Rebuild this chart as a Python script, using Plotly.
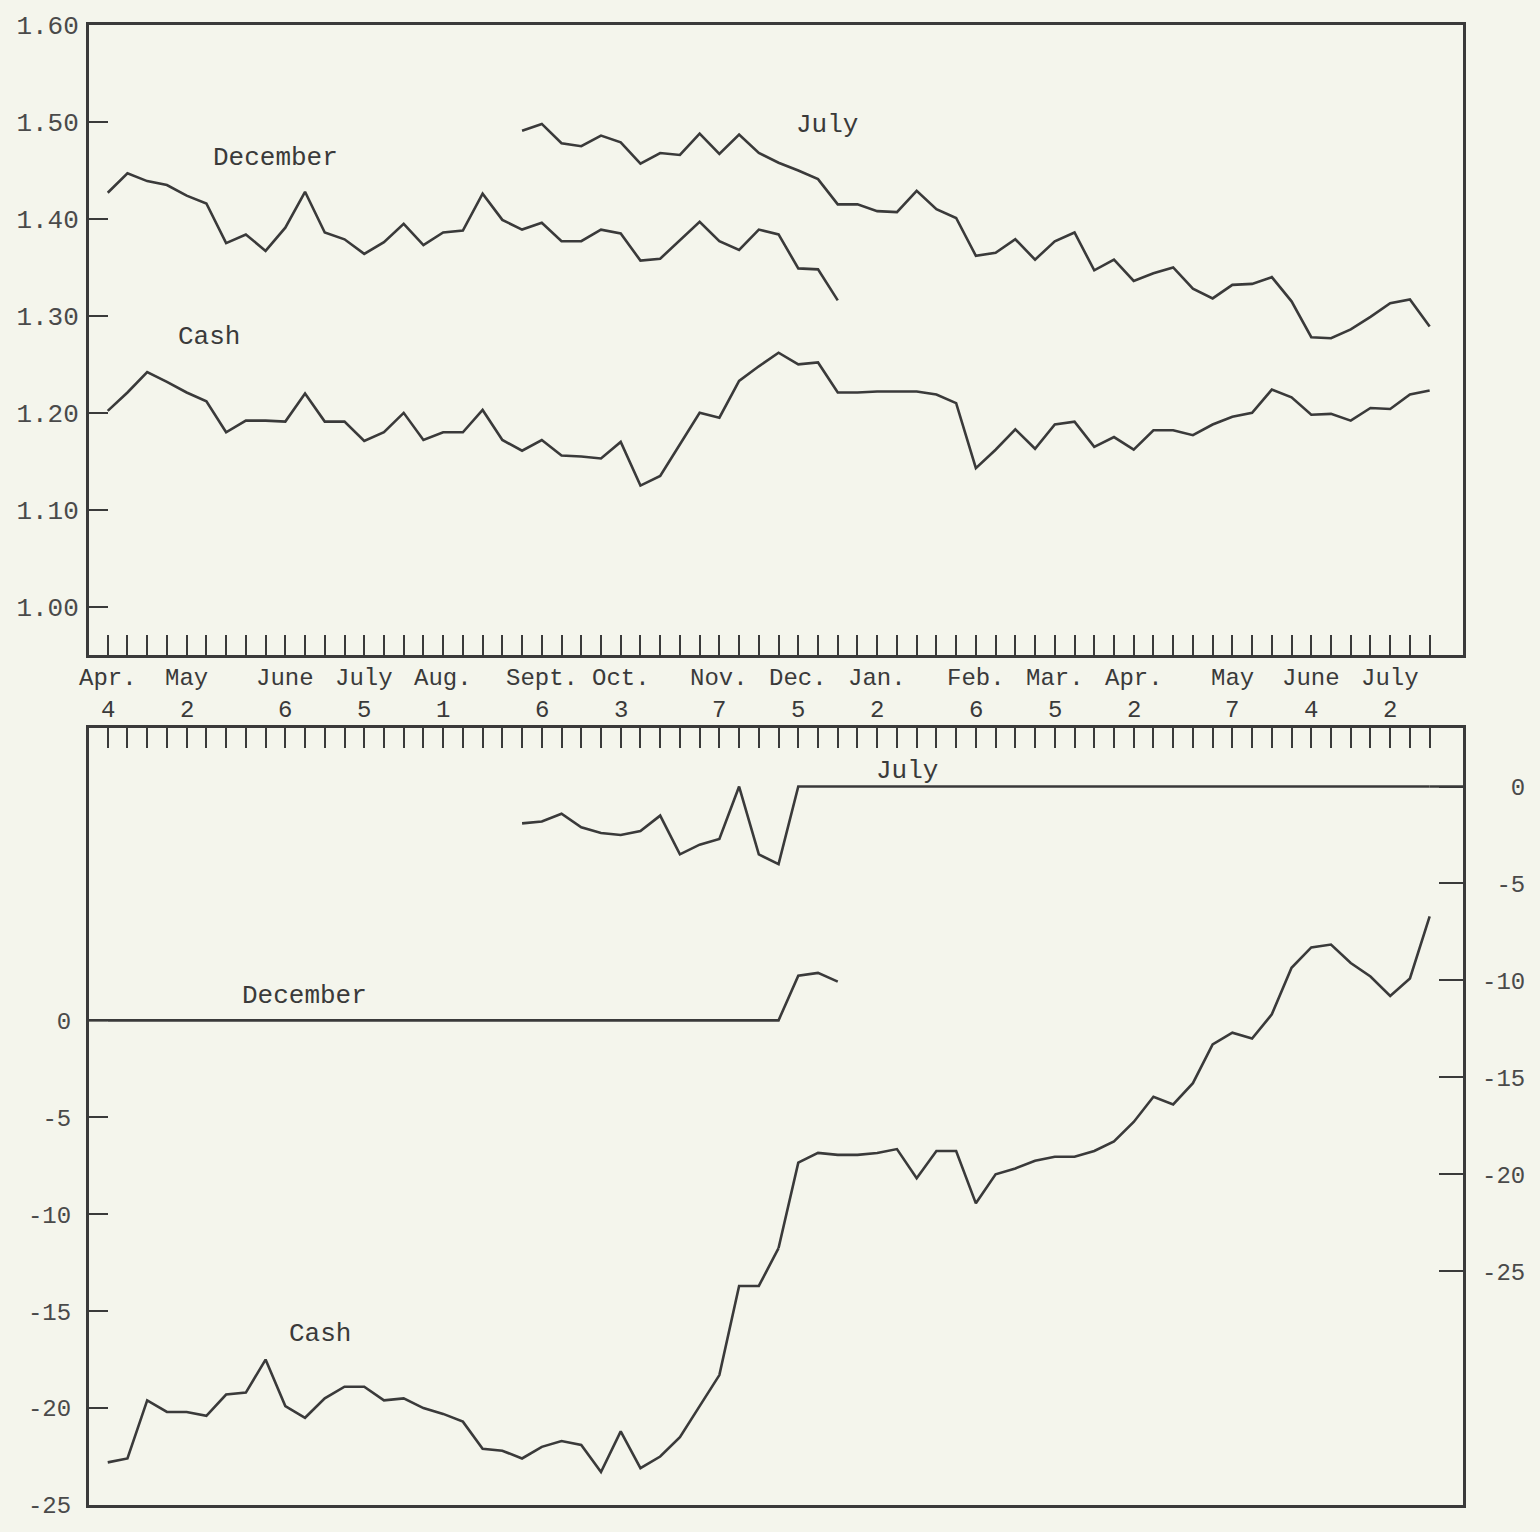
import plotly.graph_objects as go

# ---- time axis: weekly observations, week 0 = Apr. 4 ----
WEEKS = list(range(68))
LABEL_WEEKS = [0, 4, 9, 13, 17, 22, 26, 31, 35, 39, 44, 48, 52, 57, 61, 65]
MONTH_LABELS = ["Apr.", "May", "June", "July", "Aug.", "Sept.", "Oct.", "Nov.",
                "Dec.", "Jan.", "Feb.", "Mar.", "Apr.", "May", "June", "July"]
DAY_LABELS = ["4", "2", "6", "5", "1", "6", "3", "7", "5", "2", "6", "5", "2", "7", "4", "2"]

# ---- upper panel: prices ($ per bushel) ----
DEC_WEEKS = list(range(0, 38))
DEC_PRICE = [1.427, 1.447, 1.439, 1.435, 1.424, 1.416, 1.375, 1.384, 1.367, 1.391,
             1.428, 1.386, 1.379, 1.364, 1.376, 1.395, 1.373, 1.386, 1.388, 1.426,
             1.399, 1.389, 1.396, 1.377, 1.377, 1.389, 1.385, 1.357, 1.359, 1.378,
             1.397, 1.377, 1.368, 1.389, 1.384, 1.349, 1.348, 1.316]

JULY_WEEKS = list(range(21, 68))
JULY_PRICE = [1.491, 1.498, 1.478, 1.475, 1.486, 1.479, 1.457, 1.468, 1.466, 1.488,
              1.467, 1.487, 1.468, 1.458, 1.450, 1.441, 1.415, 1.415, 1.408, 1.407,
              1.429, 1.410, 1.401, 1.362, 1.365, 1.379, 1.358, 1.377, 1.386, 1.347,
              1.358, 1.336, 1.344, 1.350, 1.328, 1.318, 1.332, 1.333, 1.340, 1.315,
              1.278, 1.277, 1.286, 1.299, 1.313, 1.317, 1.289]

CASH_PRICE = [1.202, 1.221, 1.242, 1.232, 1.221, 1.212, 1.180, 1.192, 1.192, 1.191,
              1.220, 1.191, 1.191, 1.171, 1.180, 1.200, 1.172, 1.180, 1.180, 1.203,
              1.172, 1.161, 1.172, 1.156, 1.155, 1.153, 1.170, 1.125, 1.135, 1.167,
              1.200, 1.195, 1.233, 1.248, 1.262, 1.250, 1.252, 1.221, 1.221, 1.222,
              1.222, 1.222, 1.219, 1.210, 1.143, 1.162, 1.183, 1.163, 1.188, 1.191,
              1.165, 1.175, 1.162, 1.182, 1.182, 1.177, 1.188, 1.196, 1.200, 1.224,
              1.216, 1.198, 1.199, 1.192, 1.205, 1.204, 1.219, 1.223]

# ---- lower panel: differences (cents), left scale vs. December, right scale vs. July ----
DEC_DIFF = [0] * 35 + [2.3, 2.45, 2.0]                      # weeks 0-37, left scale
JULY_DIFF = [-1.9, -1.8, -1.4, -2.1, -2.4, -2.5, -2.3, -1.5, -3.5, -3.0,
             -2.7, 0.0, -3.5, -4.0] + [0] * 33               # weeks 21-67, right scale
CASH_DEC_WEEKS = list(range(0, 35))
CASH_DEC_DIFF = [-22.8, -22.6, -19.6, -20.2, -20.2, -20.4, -19.3, -19.2, -17.5, -19.9,
                 -20.5, -19.5, -18.9, -18.9, -19.6, -19.5, -20.0, -20.3, -20.7, -22.1,
                 -22.2, -22.6, -22.0, -21.7, -21.9, -23.3, -21.2, -23.1, -22.5, -21.5,
                 -19.9, -18.3, -13.7, -13.7, -11.75]
CASH_JULY_WEEKS = list(range(34, 68))
CASH_JULY_DIFF = [-23.8, -19.4, -18.9, -19.0, -19.0, -18.9, -18.7, -20.2, -18.8, -18.8,
                  -21.5, -20.0, -19.7, -19.3, -19.1, -19.1, -18.8, -18.3, -17.3, -16.0,
                  -16.4, -15.3, -13.3, -12.7, -13.0, -11.75, -9.35, -8.3, -8.15, -9.1,
                  -9.8, -10.8, -9.9, -6.7]

PRICE_TICKS = [1.00, 1.10, 1.20, 1.30, 1.40, 1.50, 1.60]
DIFF_TICKS = [0, -5, -10, -15, -20, -25]

# ---- styling ----
INK = "#3a3a3a"
PAPER = "#f4f5ec"
TYPE = "Liberation Mono, Courier New, monospace"
X_RANGE = [-0.95, 68.69]
LW = 2.6

fig = go.Figure()

def line(x, y, xa, ya):
    fig.add_trace(go.Scatter(x=x, y=y, xaxis=xa, yaxis=ya, mode="lines",
                             line=dict(color=INK, width=LW), hoverinfo="skip",
                             showlegend=False))

line(DEC_WEEKS, DEC_PRICE, "x", "y")
line(JULY_WEEKS, JULY_PRICE, "x", "y")
line(WEEKS, CASH_PRICE, "x", "y")

line(DEC_WEEKS, DEC_DIFF, "x2", "y2")
line(CASH_DEC_WEEKS, CASH_DEC_DIFF, "x2", "y2")
line(JULY_WEEKS, JULY_DIFF, "x2", "y3")
line(CASH_JULY_WEEKS, CASH_JULY_DIFF, "x2", "y3")

# zero lines of the two lower scales, carried to the frame
fig.add_shape(type="line", xref="x2", yref="y2", x0=X_RANGE[0], x1=DEC_WEEKS[0],
              y0=0, y1=0, line=dict(color=INK, width=LW))
fig.add_shape(type="line", xref="x2", yref="y3", x0=JULY_WEEKS[-1], x1=X_RANGE[1],
              y0=0, y1=0, line=dict(color=INK, width=LW))

frame = dict(showline=True, linecolor=INK, linewidth=3, mirror=True,
             showgrid=False, zeroline=False)

fig.update_layout(
    width=1540, height=1532,
    margin=dict(l=89, r=77, t=20, b=24),
    paper_bgcolor=PAPER, plot_bgcolor=PAPER,
    xaxis=dict(domain=[0, 1], range=X_RANGE, anchor="y", tickvals=WEEKS,
               ticks="inside", ticklen=20, tickwidth=2.4, tickcolor=INK,
               showticklabels=False, **frame),
    yaxis=dict(domain=[0.5746, 1.0], range=[0.9507, 1.60], anchor="x",
               tickvals=PRICE_TICKS, ticktext=[f"{v:.2f}" for v in PRICE_TICKS],
               ticks="inside", ticklen=19, tickwidth=2.4, tickcolor=INK,
               ticklabelstandoff=2,
               tickfont=dict(family=TYPE, size=26, color="#4a4a4a"), **frame),
    xaxis2=dict(domain=[0, 1], range=X_RANGE, anchor="y2", side="top",
                tickvals=WEEKS, ticks="inside", ticklen=20, tickwidth=2.4,
                tickcolor=INK, showticklabels=False, **frame),
    yaxis2=dict(domain=[0, 0.52487], range=[-25, 15.07], anchor="x2",
                tickvals=DIFF_TICKS, ticktext=[str(v) for v in DIFF_TICKS],
                ticks="inside", ticklen=19, tickwidth=2.4, tickcolor=INK,
                ticklabelstandoff=10,
                tickfont=dict(family=TYPE, size=24, color="#4a4a4a"), **frame),
    yaxis3=dict(overlaying="y2", side="right", anchor="x2", range=[-37.06, 3.01],
                tickvals=DIFF_TICKS, ticktext=[f"{v:>3}" for v in DIFF_TICKS],
                ticks="inside", ticklen=24, tickwidth=2.4, tickcolor=INK,
                ticklabelstandoff=18, showline=False, showgrid=False, zeroline=False,
                tickfont=dict(family=TYPE, size=24, color="#4a4a4a")),
)

# two typed rows under the upper panel: month, then day of month
MONTH_ROW_Y = 0.5585
DAY_ROW_Y = 0.5370
ann = []
for w, m, d in zip(LABEL_WEEKS, MONTH_LABELS, DAY_LABELS):
    ann.append(dict(x=w, y=MONTH_ROW_Y, xref="x", yref="paper", text=m, showarrow=False,
                    xanchor="center", yanchor="middle", borderpad=0,
                    font=dict(family=TYPE, size=24, color=INK)))
    ann.append(dict(x=w, y=DAY_ROW_Y, xref="x", yref="paper", text=d, showarrow=False,
                    xanchor="center", yanchor="middle", borderpad=0,
                    font=dict(family=TYPE, size=24, color=INK)))

series_labels = [
    ("December", 8.48, 1.4628, "x", "y"),
    ("July", 36.45, 1.4965, "x", "y"),
    ("Cash", 5.13, 1.2781, "x", "y"),
    ("July", 40.5, 0.8, "x2", "y3"),
    ("December", 9.95, 1.28, "x2", "y2"),
    ("Cash", 10.77, -16.2, "x2", "y2"),
]
for t, x, y, xr, yr in series_labels:
    ann.append(dict(x=x, y=y, xref=xr, yref=yr, text=t, showarrow=False,
                    xanchor="center", yanchor="middle",
                    font=dict(family=TYPE, size=26, color=INK)))

fig.update_layout(annotations=ann)

fig.write_html("out.html")
